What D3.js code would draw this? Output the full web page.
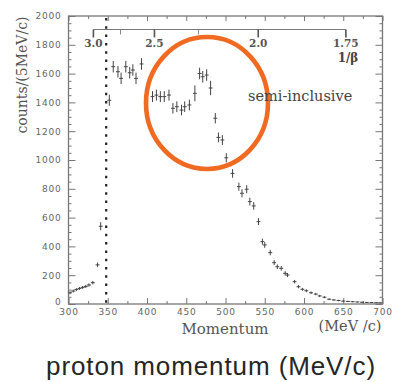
<!DOCTYPE html>
<html>
<head>
<meta charset="utf-8">
<script src="https://cdn.jsdelivr.net/npm/d3@7"></script>
<style>
  html, body { margin: 0; padding: 0; background: #fff; }
  svg { display: block; }
</style>
</head>
<body>
<svg id="chart" width="394" height="382"></svg>
<script>
// ---- data ----
const momentum = [302, 306, 310, 314, 318, 322, 326, 331, 337, 341,
  352, 357, 363, 367, 373, 378, 382, 386, 393,
  407, 412, 417, 422, 428, 433, 438, 444, 448, 454, 461, 467, 471, 476, 481,
  487, 491, 496, 501, 509, 517, 521, 527, 531, 536, 542, 547, 550, 557, 562,
  566, 571, 576, 579, 588, 593, 598, 603, 609, 615, 620, 626, 632, 638, 644,
  650, 656, 662, 668, 674, 680, 686, 692, 697];
const counts = [78, 90, 100, 108, 115, 122, 132, 148, 272, 540,
  1415, 1648, 1613, 1567, 1648, 1606, 1625, 1567, 1667,
  1440, 1451, 1440, 1440, 1451, 1359, 1370, 1347, 1370, 1382, 1463, 1601, 1578, 1590, 1500,
  1290, 1157, 1139, 1015, 907, 815, 769, 797, 711, 681, 572, 433, 410, 357, 287,
  259, 248, 213, 201, 155, 120, 102, 92, 78, 69, 56, 47, 33, 28, 24,
  20, 18, 16, 14, 12, 11, 10, 9, 8];
const errors = [10, 10, 10, 10, 10, 11, 11, 12, 16, 28,
  38, 40, 40, 40, 40, 40, 40, 40, 40,
  38, 38, 38, 38, 38, 37, 37, 37, 37, 37, 55, 40, 40, 40, 50,
  36, 34, 34, 32, 30, 28, 28, 28, 27, 26, 24, 21, 20, 19, 17,
  16, 16, 15, 14, 12, 11, 10, 10, 9, 8, 8, 7, 6, 5, 5,
  5, 4, 4, 4, 4, 3, 3, 3, 3];
const binHalfWidth = 2.5;
const xTickValues = [300, 350, 400, 450, 500, 550, 600, 650, 700];
const yTickValues = [0, 200, 400, 600, 800, 1000, 1200, 1400, 1600, 1800, 2000];
const betaTicks = [3.0, 2.5, 2.0, 1.75];
const betaLabels = ["3.0", "2.5", "2.0", "1.75"];
const betaMinor = [2.75, 2.25];
const cutMomentum = 348;
const protonMass = 938.27;

// ---- layout ----
const svg = d3.select("#chart");
const x = d3.scaleLinear().domain([300, 700]).range([68.5, 382.5]);
const y = d3.scaleLinear().domain([0, 2000]).range([304, 16]);
const frameCol = "#777";
const labelFont = "'DejaVu Sans', sans-serif";
const serif = "'DejaVu Serif', serif";

function styleAxis(g, withText) {
  g.select(".domain").remove();
  g.selectAll("line").attr("stroke", frameCol).attr("stroke-width", 1);
  if (withText) {
    g.selectAll("text").attr("fill", "#666").style("font-family", labelFont)
      .style("font-size", "9px").style("letter-spacing", "0.8px");
  } else {
    g.selectAll("text").remove();
  }
}

// minor ticks
const xMinor = d3.range(300, 701, 25).filter(v => v % 50 !== 0);
const yMinor = d3.range(0, 2001, 50).filter(v => v % 200 !== 0);

svg.append("g").attr("transform", `translate(0,${y(0)})`)
  .call(d3.axisBottom(x).tickValues(xMinor).tickSizeInner(-3).tickSizeOuter(0))
  .call(g => styleAxis(g, false));
svg.append("g").attr("transform", `translate(0,${y(0)})`)
  .call(d3.axisBottom(x).tickValues(xTickValues).tickFormat(d3.format("d")).tickSizeInner(-6).tickSizeOuter(0).tickPadding(5))
  .call(g => styleAxis(g, true));
svg.append("g").attr("transform", `translate(0,${y(2000)})`)
  .call(d3.axisTop(x).tickValues(xTickValues).tickSizeInner(-5).tickSizeOuter(0))
  .call(g => styleAxis(g, false));
svg.append("g").attr("transform", `translate(0,${y(2000)})`)
  .call(d3.axisTop(x).tickValues(xMinor).tickSizeInner(-3).tickSizeOuter(0))
  .call(g => styleAxis(g, false));

svg.append("g").attr("transform", `translate(${x(300)},0)`)
  .call(d3.axisLeft(y).tickValues(yMinor).tickSizeInner(-3).tickSizeOuter(0))
  .call(g => styleAxis(g, false));
svg.append("g").attr("transform", `translate(${x(300)},0)`)
  .call(d3.axisLeft(y).tickValues(yTickValues).tickFormat(d3.format("d")).tickSizeInner(-7).tickSizeOuter(0).tickPadding(7))
  .call(g => styleAxis(g, true))
  .call(g => g.selectAll(".tick").filter(d => d === 0).select("text").attr("dy", "0.1em"));
svg.append("g").attr("transform", `translate(${x(700)},0)`)
  .call(d3.axisRight(y).tickValues(yMinor).tickSizeInner(-3).tickSizeOuter(0))
  .call(g => styleAxis(g, false));
svg.append("g").attr("transform", `translate(${x(700)},0)`)
  .call(d3.axisRight(y).tickValues(yTickValues).tickSizeInner(-7).tickSizeOuter(0))
  .call(g => styleAxis(g, false));

// frame
svg.append("rect")
  .attr("x", x(300)).attr("y", y(2000))
  .attr("width", x(700) - x(300)).attr("height", y(0) - y(2000))
  .attr("fill", "none").attr("stroke", frameCol).attr("stroke-width", 1.3);

// 1/beta secondary axis
const pOfBeta = b => protonMass / Math.sqrt(b * b - 1);
const betaY = 29.5;
const gb = svg.append("g");
gb.append("line")
  .attr("x1", x(pOfBeta(betaTicks[0]))).attr("x2", x(pOfBeta(betaTicks[betaTicks.length - 1])))
  .attr("y1", betaY).attr("y2", betaY)
  .attr("stroke", frameCol).attr("stroke-width", 1.2);
gb.selectAll("line.maj").data(betaTicks).join("line").attr("class", "maj")
  .attr("x1", d => x(pOfBeta(d))).attr("x2", d => x(pOfBeta(d)))
  .attr("y1", betaY).attr("y2", betaY + 8)
  .attr("stroke", "#555").attr("stroke-width", 1.6);
gb.selectAll("line.min").data(betaMinor).join("line").attr("class", "min")
  .attr("x1", d => x(pOfBeta(d))).attr("x2", d => x(pOfBeta(d)))
  .attr("y1", betaY).attr("y2", betaY + 5)
  .attr("stroke", "#888").attr("stroke-width", 1);
gb.selectAll("text.bl").data(betaTicks).join("text").attr("class", "bl")
  .attr("x", d => x(pOfBeta(d))).attr("y", 47)
  .attr("text-anchor", "middle")
  .attr("fill", "#555").style("font-family", serif).style("font-size", "10.5px")
  .style("font-weight", "bold")
  .text((d, i) => betaLabels[i]);
gb.append("text").attr("x", 348).attr("y", 62).attr("text-anchor", "middle")
  .attr("fill", "#444").style("font-family", serif).style("font-size", "12px")
  .style("font-weight", "bold").text("1/β");

// dashed cut line
svg.append("line")
  .attr("x1", x(cutMomentum)).attr("x2", x(cutMomentum))
  .attr("y1", y(2000) + 2).attr("y2", y(0))
  .attr("stroke", "#222").attr("stroke-width", 2.2).attr("stroke-dasharray", "2.5,5.8");

// data points with error bars
const pts = momentum.map((m, i) => ({ m, c: counts[i], e: errors[i] }));
const gp = svg.append("g").attr("stroke", "#444").attr("stroke-width", 1);
gp.selectAll("line.v").data(pts).join("line").attr("class", "v")
  .attr("x1", d => x(d.m)).attr("x2", d => x(d.m))
  .attr("y1", d => y(d.c + d.e)).attr("y2", d => y(d.c - d.e));
gp.selectAll("line.h").data(pts).join("line").attr("class", "h")
  .attr("x1", d => x(d.m - binHalfWidth)).attr("x2", d => x(d.m + binHalfWidth))
  .attr("y1", d => y(d.c)).attr("y2", d => y(d.c));

// annotation ellipse
svg.append("ellipse")
  .attr("cx", 207).attr("cy", 103).attr("rx", 61).attr("ry", 66)
  .attr("fill", "none").attr("stroke", "#F06A22").attr("stroke-width", 4.6);

svg.append("text").attr("x", 248).attr("y", 101)
  .attr("fill", "#444").style("font-family", serif).style("font-size", "14.5px")
  .text("semi-inclusive");

// axis titles
svg.append("text")
  .attr("transform", "translate(27,75) rotate(-90)")
  .attr("text-anchor", "middle")
  .attr("fill", "#555").style("font-family", serif).style("font-size", "14px")
  .text("counts/(5MeV/c)");
svg.append("text").attr("x", 225).attr("y", 334).attr("text-anchor", "middle")
  .attr("fill", "#555").style("font-family", serif).style("font-size", "15px")
  .text("Momentum");
svg.append("text").attr("x", 350).attr("y", 331).attr("text-anchor", "middle")
  .attr("fill", "#555").style("font-family", serif).style("font-size", "14.5px")
  .text("(MeV /c)");

// chart caption
svg.append("text").attr("x", 211).attr("y", 375).attr("text-anchor", "middle")
  .attr("fill", "#262626").style("font-family", "'Liberation Sans', Arial, sans-serif")
  .style("font-size", "26px").style("letter-spacing", "0.9px")
  .text("proton momentum (MeV/c)");
</script>
</body>
</html>
